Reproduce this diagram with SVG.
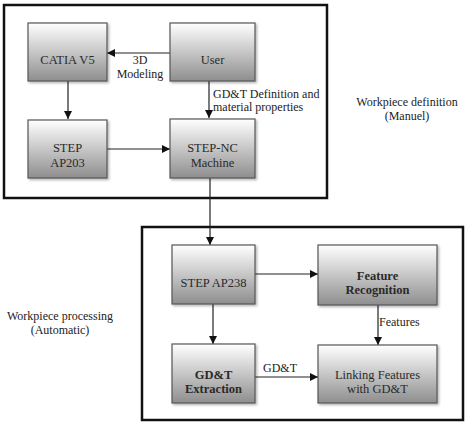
<svg xmlns="http://www.w3.org/2000/svg" width="474" height="427" viewBox="0 0 474 427">
<style>
.frame{fill:none;stroke:#111;stroke-width:2.5}
.node{fill:url(#g);stroke:#555;stroke-width:1.2;filter:url(#sh)}
.t{font-family:"Liberation Serif","DejaVu Serif",serif;font-size:12.5px;fill:#2a2a2a;text-anchor:middle}
.b{font-weight:bold}
.l{font-family:"Liberation Serif","DejaVu Serif",serif;font-size:12px;fill:#222}
.c{fill:none;stroke:#222;stroke-width:1.2;marker-end:url(#a)}
</style>
<defs>
<linearGradient id="g" x1="0" y1="0" x2="0" y2="1">
<stop offset="0" stop-color="#ffffff"/>
<stop offset="1" stop-color="#8e8e8e"/>
</linearGradient>
<filter id="sh" x="-10%" y="-10%" width="120%" height="120%">
<feDropShadow dx="1.5" dy="1.5" stdDeviation="0.8" flood-color="#000" flood-opacity="0.3"/>
</filter>
<marker id="a" viewBox="0 0 10 10" refX="10" refY="5" markerWidth="8" markerHeight="8" markerUnits="userSpaceOnUse" orient="auto">
<path d="M0,0 L10,5 L0,10 z" fill="#111"/>
</marker>
</defs>
<rect class="frame" x="4" y="5" width="323" height="193"/>
<rect class="frame" x="142" y="227" width="321" height="193"/>
<text class="l" x="407" y="106" text-anchor="middle">Workpiece definition</text>
<text class="l" x="407" y="120" text-anchor="middle">(Manuel)</text>
<text class="l" x="60" y="320" text-anchor="middle">Workpiece processing</text>
<text class="l" x="60" y="334" text-anchor="middle">(Automatic)</text>
<g id="connectors">
<line class="c" x1="170" y1="53" x2="107" y2="53"/>
<line class="c" x1="68" y1="81" x2="68" y2="119"/>
<line class="c" x1="209" y1="81" x2="209" y2="118"/>
<line class="c" x1="107" y1="149" x2="170" y2="149"/>
<line class="c" x1="210" y1="178" x2="210" y2="245"/>
<line class="c" x1="255" y1="274" x2="318" y2="274"/>
<line class="c" x1="213" y1="304" x2="213" y2="344"/>
<line class="c" x1="378" y1="305" x2="378" y2="345"/>
<line class="c" x1="255" y1="377" x2="318" y2="377"/>
<text class="l" x="140" y="64" text-anchor="middle">3D</text>
<text class="l" x="140" y="78" text-anchor="middle">Modeling</text>
<text class="l" x="213" y="98">GD&amp;T Definition and</text>
<text class="l" x="213" y="111">material properties</text>
<text class="l" x="379" y="326">Features</text>
<text class="l" x="280" y="372" text-anchor="middle">GD&amp;T</text>
</g>
<g id="catia"><rect class="node" x="28" y="23" width="79" height="58"/><text class="t" x="67.5" y="64">CATIA V5</text></g>
<g id="user"><rect class="node" x="170" y="23" width="85" height="58"/><text class="t" x="212.5" y="64">User</text></g>
<g id="ap203"><rect class="node" x="28" y="120" width="79" height="58"/><text class="t" x="67.5" y="152">STEP</text><text class="t" x="67.5" y="167">AP203</text></g>
<g id="stepnc"><rect class="node" x="170" y="119" width="85" height="59"/><text class="t" x="212.5" y="152">STEP-NC</text><text class="t" x="212.5" y="167">Machine</text></g>
<g id="ap238"><rect class="node" x="172" y="245" width="83" height="59"/><text class="t" x="213.5" y="287">STEP AP238</text></g>
<g id="featrec"><rect class="node" x="318" y="245" width="119" height="60"/><text class="t b" x="377.5" y="280">Feature</text><text class="t b" x="377.5" y="294">Recognition</text></g>
<g id="gdtext"><rect class="node" x="172" y="344" width="83" height="59"/><text class="t b" x="213.5" y="379">GD&amp;T</text><text class="t b" x="213.5" y="393">Extraction</text></g>
<g id="linking"><rect class="node" x="318" y="345" width="119" height="58"/><text class="t" x="377.5" y="379">Linking Features</text><text class="t" x="377.5" y="393">with GD&amp;T</text></g>
</svg>
